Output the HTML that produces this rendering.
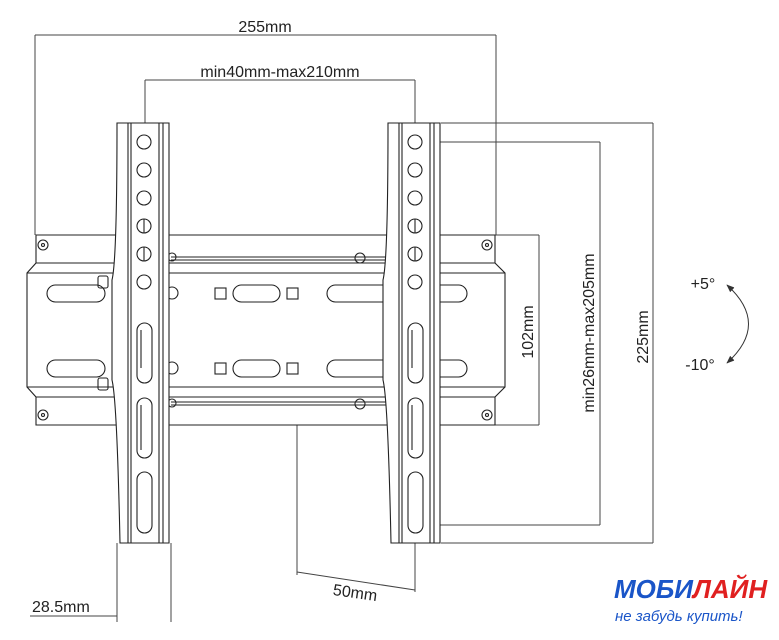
<!DOCTYPE html>
<html><head><meta charset="utf-8"><style>
html,body{margin:0;padding:0;background:#fff;}
svg{display:block;}
text{font-family:"Liberation Sans","DejaVu Sans",sans-serif;fill:#222;}
</style></head><body>
<svg width="779" height="640" viewBox="0 0 779 640" xmlns="http://www.w3.org/2000/svg">
<defs>
<marker id="ar" viewBox="0 0 10 10" refX="9" refY="5" markerWidth="8" markerHeight="8" orient="auto-start-reverse"><path d="M0,1 L10,5 L0,9 z" fill="#333"/></marker>
</defs>
<g fill="none" stroke="#444" stroke-width="1">
<line x1="35" y1="35" x2="496" y2="35"/>
<line x1="35" y1="35" x2="35" y2="235"/>
<line x1="496" y1="35" x2="496" y2="235"/>
<line x1="145" y1="80" x2="415" y2="80"/>
<line x1="145" y1="80" x2="145" y2="142"/>
<line x1="415" y1="80" x2="415" y2="142"/>
<line x1="441" y1="123" x2="653" y2="123"/>
<line x1="441" y1="543" x2="653" y2="543"/>
<line x1="653" y1="123" x2="653" y2="543"/>
<line x1="415" y1="142" x2="600" y2="142"/>
<line x1="415" y1="525" x2="600" y2="525"/>
<line x1="600" y1="142" x2="600" y2="525"/>
<line x1="495" y1="235" x2="539" y2="235"/>
<line x1="495" y1="425" x2="539" y2="425"/>
<line x1="539" y1="235" x2="539" y2="425"/>
<line x1="297" y1="425" x2="297" y2="575"/>
<line x1="415" y1="543" x2="415" y2="592"/>
<line x1="297" y1="572" x2="415" y2="590"/>
<line x1="117" y1="543" x2="117" y2="622"/>
<line x1="171" y1="543" x2="171" y2="622"/>
<line x1="30" y1="616" x2="117" y2="616"/>
</g>
<g fill="none" stroke="#222" stroke-width="1.1">
<path d="M36,235 L495,235 L495,263 L505,273 L505,387 L495,397 L495,425 L36,425 L36,397 L27,387 L27,273 L36,263 Z" fill="#fff"/>
<line x1="27" y1="273" x2="505" y2="273"/>
<line x1="27" y1="387" x2="505" y2="387"/>
<line x1="36" y1="263" x2="495" y2="263"/>
<line x1="36" y1="397" x2="495" y2="397"/>
<line x1="171" y1="257" x2="387" y2="257"/>
<line x1="171" y1="260" x2="387" y2="260"/>
<line x1="171" y1="402" x2="387" y2="402"/>
<line x1="171" y1="405" x2="387" y2="405"/>
<circle cx="43" cy="245" r="5"/><circle cx="43" cy="245" r="1.5"/>
<circle cx="43" cy="415" r="5"/><circle cx="43" cy="415" r="1.5"/>
<circle cx="487" cy="245" r="5"/><circle cx="487" cy="245" r="1.5"/>
<circle cx="487" cy="415" r="5"/><circle cx="487" cy="415" r="1.5"/>
<rect x="47" y="285" width="58" height="17" rx="8.5"/>
<rect x="47" y="360" width="58" height="17" rx="8.5"/>
<rect x="233" y="285" width="47" height="17" rx="8.5"/>
<rect x="233" y="360" width="47" height="17" rx="8.5"/>
<rect x="215" y="288" width="11" height="11"/><rect x="287" y="288" width="11" height="11"/>
<rect x="215" y="363" width="11" height="11"/><rect x="287" y="363" width="11" height="11"/>
<rect x="327" y="285" width="70" height="17" rx="8.5"/>
<rect x="327" y="360" width="70" height="17" rx="8.5"/>
<rect x="430" y="285" width="37" height="17" rx="8.5"/>
<rect x="430" y="360" width="37" height="17" rx="8.5"/>
<circle cx="172" cy="293" r="6"/><circle cx="172" cy="368" r="6"/>
<rect x="98" y="276" width="10" height="12" rx="2"/><rect x="98" y="378" width="10" height="12" rx="2"/>
<circle cx="172" cy="257" r="4"/><circle cx="360" cy="258" r="5"/>
<circle cx="172" cy="403" r="4"/><circle cx="360" cy="404" r="5"/>
</g>
<g fill="#fff" stroke="#222" stroke-width="1.1">
<g id="br">
<path d="M120,123 L169,123 L169,543 L120,543 Q117,400 112,380 L112,280 Q117,260 117,123 Z"/>
<g fill="none">
<line x1="128" y1="123" x2="128" y2="543"/><line x1="131" y1="123" x2="131" y2="543"/>
<line x1="159" y1="123" x2="159" y2="543"/><line x1="163" y1="123" x2="163" y2="543"/>
<circle cx="144" cy="142" r="7"/><circle cx="144" cy="170" r="7"/><circle cx="144" cy="198" r="7"/>
<circle cx="144" cy="226" r="7"/><circle cx="144" cy="254" r="7"/><circle cx="144" cy="282" r="7"/>
<line x1="144" y1="219" x2="144" y2="233"/><line x1="144" y1="247" x2="144" y2="261"/>
<rect x="137" y="323" width="15" height="60" rx="7.5"/>
<rect x="137" y="398" width="15" height="60" rx="7.5"/>
<rect x="137" y="472" width="15" height="61" rx="7.5"/>
<line x1="141" y1="330" x2="141" y2="368"/><line x1="141" y1="405" x2="141" y2="450"/>
</g>
</g>
<use href="#br" transform="translate(271,0)"/>
</g>
<path d="M727,285 Q770,324 727,363" fill="none" stroke="#333" stroke-width="1" marker-start="url(#ar)" marker-end="url(#ar)"/>
<g font-size="16">
<text x="265" y="32" text-anchor="middle">255mm</text>
<text x="280" y="77" text-anchor="middle">min40mm-max210mm</text>
<text x="355" y="598" text-anchor="middle" transform="rotate(8 355 594)">50mm</text>
<text x="32" y="612">28.5mm</text>
<text x="703" y="289" text-anchor="middle">+5°</text>
<text x="700" y="370" text-anchor="middle">-10°</text>
<text transform="translate(533,332) rotate(-90)" text-anchor="middle">102mm</text>
<text transform="translate(594,333) rotate(-90)" text-anchor="middle">min26mm-max205mm</text>
<text transform="translate(648,337) rotate(-90)" text-anchor="middle">225mm</text>
</g>
<text x="614" y="598" font-size="26" font-weight="bold" font-style="italic"><tspan fill="#1a55c8" style="fill:#1a55c8">МОБИ</tspan><tspan fill="#e02020" style="fill:#e02020">ЛАЙН</tspan></text>
<text x="615" y="621" font-size="15" font-style="italic" style="fill:#1a55c8">не забудь купить!</text>
</svg>
</body></html>
